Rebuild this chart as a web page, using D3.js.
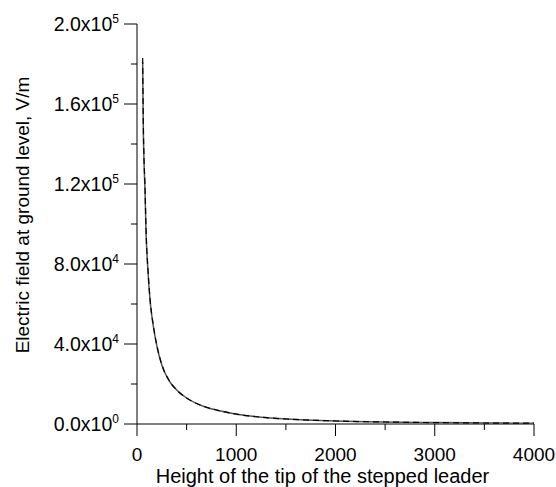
<!DOCTYPE html>
<html>
<head>
<meta charset="utf-8">
<script src="https://cdn.jsdelivr.net/npm/d3@7"></script>
<style>
  body { margin: 0; background: #fff; }
  text { font-family: "Liberation Sans", Arial, sans-serif; }
</style>
</head>
<body>
<div id="chart"></div>
<script>
// tip height (m) and field (V/m)
const heights = [57, 60, 63, 70, 80, 91, 111, 131, 164, 200, 250, 332, 400, 500, 668, 800, 1004, 1250, 1507, 2011, 2500, 3000, 3500, 4000];
const fieldSolid = [181000, 165000, 150000, 132000, 118000, 96000, 76000, 62000, 49000, 39000, 29500, 21000, 17000, 13000, 8900, 7000, 4900, 3400, 2500, 1500, 1000, 700, 500, 400];
const fieldDashed = [183000, 168000, 153000, 134000, 120000, 97500, 77000, 62800, 49500, 39300, 29700, 21100, 17000, 13000, 8900, 7000, 4900, 3400, 2500, 1500, 1000, 700, 500, 400];
const xTicks = [0, 1000, 2000, 3000, 4000];
const yTicks = [0, 40000, 80000, 120000, 160000, 200000];
const yMant = ["0.0", "4.0", "8.0", "1.2", "1.6", "2.0"];
const yExp = ["0", "4", "4", "5", "5", "5"];

const width = 556, height = 487;
const margin = {top: 24, right: 22, bottom: 63, left: 137};

const svg = d3.select('#chart')
    .append('svg')
    .attr('width', width)
    .attr('height', height);

const x = d3.scaleLinear()
    .domain([0, 4000])
    .range([margin.left, width - margin.right]);
const y = d3.scaleLinear()
    .domain([0, 200000])
    .range([height - margin.bottom, margin.top]);

const x0 = x(0), y0 = y(0);

// axes lines
svg.append('line')
    .attr('x1', x0).attr('x2', x(4000))
    .attr('y1', y0).attr('y2', y0)
    .attr('stroke', '#000').attr('stroke-width', 1);
svg.append('line')
    .attr('x1', x0).attr('x2', x0)
    .attr('y1', y0).attr('y2', y(200000))
    .attr('stroke', '#000').attr('stroke-width', 1);

// x ticks (major + minor)
const xMinor = d3.range(500, 4000, 1000);
svg.selectAll('.xmaj')
    .data(xTicks).enter().append('line')
    .attr('x1', d => x(d)).attr('x2', d => x(d))
    .attr('y1', y0).attr('y2', y0 + 12)
    .attr('stroke', '#000');
svg.selectAll('.xmin')
    .data(xMinor).enter().append('line')
    .attr('x1', d => x(d)).attr('x2', d => x(d))
    .attr('y1', y0).attr('y2', y0 + 6)
    .attr('stroke', '#000');
svg.selectAll('.xlab')
    .data(xTicks).enter().append('text')
    .attr('x', d => x(d))
    .attr('y', y0 + 37)
    .attr('text-anchor', 'middle')
    .style('font-size', '19px')
    .text(d => d);

// y ticks (major + minor)
const yMinor = d3.range(20000, 200000, 40000);
svg.selectAll('.ymaj')
    .data(yTicks).enter().append('line')
    .attr('x1', x0 - 13).attr('x2', x0)
    .attr('y1', d => y(d)).attr('y2', d => y(d))
    .attr('stroke', '#000');
svg.selectAll('.ymin')
    .data(yMinor).enter().append('line')
    .attr('x1', x0 - 6).attr('x2', x0)
    .attr('y1', d => y(d)).attr('y2', d => y(d))
    .attr('stroke', '#000');
const ylab = svg.selectAll('.ylab')
    .data(yTicks).enter().append('text')
    .attr('x', x0 - 18)
    .attr('y', d => y(d) + 7)
    .attr('text-anchor', 'end')
    .style('font-size', '19.5px');
ylab.append('tspan').text((d, i) => yMant[i] + 'x10');
ylab.append('tspan')
    .attr('dy', -8)
    .style('font-size', '12px')
    .text((d, i) => yExp[i]);

// axis titles
svg.append('text')
    .attr('x', 322.5)
    .attr('y', y0 + 59)
    .attr('text-anchor', 'middle')
    .style('font-size', '20px')
    .text('Height of the tip of the stepped leader');
svg.append('text')
    .attr('transform', `translate(29, ${(y0 + y(200000)) / 2 - 9}) rotate(-90)`)
    .attr('text-anchor', 'middle')
    .style('font-size', '19px')
    .text('Electric field at ground level, V/m');

// curves
const line = d3.line()
    .curve(d3.curveMonotoneX)
    .x(d => x(d[0]))
    .y(d => y(d[1]));
svg.append('path')
    .datum(heights.map((h, i) => [h, fieldSolid[i]]))
    .attr('d', line)
    .attr('fill', 'none')
    .attr('stroke', '#555')
    .attr('stroke-width', 1.5);
svg.append('path')
    .datum(heights.map((h, i) => [h, fieldDashed[i]]))
    .attr('d', line)
    .attr('fill', 'none')
    .attr('stroke', '#000')
    .attr('stroke-width', 1.2)
    .style('stroke-dasharray', '6,4');
</script>
</body>
</html>
